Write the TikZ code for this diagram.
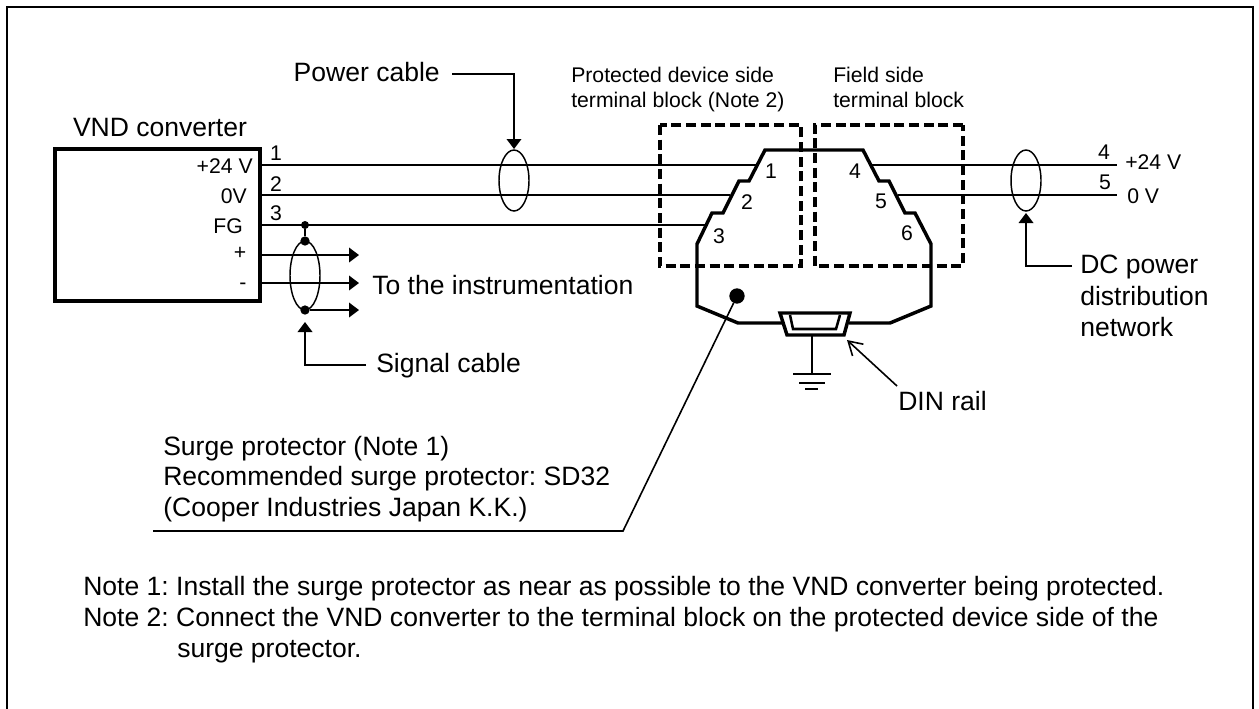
\documentclass[tikz,border=0pt]{standalone}
\usepackage{fontspec}
\setmainfont{Liberation Sans}
\usetikzlibrary{arrows.meta}
\AtBeginDocument{\frenchspacing}
\tikzset{
  px/.style={x=0.75pt,y=-0.75pt},
  wire/.style={line width=1.2pt},
  dashbox/.style={line width=2.6pt,dash pattern=on 7.5pt off 3.5pt},
  block/.style={line width=2.6pt,line join=miter},
  cable/.style={line width=1.1pt},
  lead/.style={line width=1.1pt,-{Triangle[length=7.5pt,width=11pt]}},
  big/.style={font=\fontsize{19.9}{24}\selectfont,inner sep=0pt},
  mid/.style={font=\fontsize{15.9}{19}\selectfont,inner sep=0pt},
  junction/.style={circle,fill=black,inner sep=0pt,minimum size=6pt},
}
\begin{document}
\begin{tikzpicture}[px]
\useasboundingbox (0,0) rectangle (1259,708);
\clip (0,0) rectangle (1259,708);
\draw[line width=1.6pt] (7,720)--(7,7)--(1253,7)--(1253,720);
% VND box
\node[draw,line width=2.4pt,minimum width=153.75pt,minimum height=114pt,inner sep=0pt] (vnd) at (157.5,225) {};
\node[big,anchor=base] (vndt) at (160,136) {VND converter};
\node[mid,anchor=base east] (t1) at (253,173) {+24 V};
\node[mid,anchor=base east] (t2) at (247,203) {0V};
\node[mid,anchor=base east] (t3) at (243,233) {FG};
\node[mid,anchor=base] (t4) at (240,259) {+};
\node[mid,anchor=base] (t5) at (243,289) {-};
\node[mid,anchor=base] (n1) at (276,160) {1};
\node[mid,anchor=base] (n2) at (276,191) {2};
\node[mid,anchor=base] (n3) at (276,220) {3};
% wires
\coordinate (w1r) at (757,165);
\coordinate (w2r) at (730,195);
\coordinate (w3r) at (705,225);
\coordinate (w4l) at (872,165); \coordinate (w4r) at (1117,165);
\coordinate (w5l) at (898,195); \coordinate (w5r) at (1117,195);
\draw[wire] (vnd.east|-w1r)--(w1r);
\draw[wire] (vnd.east|-w2r)--(w2r);
\draw[wire] (vnd.east|-w3r)--(w3r);
\draw[wire] (w4l)--(w4r);
\draw[wire] (w5l)--(w5r);
% signal
\node[junction] (j1) at (305,225) {};
\node[junction,minimum size=7pt] (j2) at (305,241) {};
\node[junction,minimum size=7pt] (j3) at (305,310) {};
\draw[wire] (j1)--(j2);
\draw[cable] (305,275.5) ellipse [x radius=15,y radius=34.5];
\coordinate (s1) at (260,255); \coordinate (s1e) at (359,255);
\coordinate (s2) at (260,283); \coordinate (s2e) at (359,283);
\coordinate (s3e) at (359,310);
\draw[lead] (s1)--(s1e);
\draw[lead] (s2)--(s2e);
\draw[lead] (j3)--(s3e);
\node[big,anchor=base west] (instr) at (372,294) {To the instrumentation};
\node[big,anchor=base west] (sigc) at (376,372) {Signal cable};
\coordinate (sigtip) at (305,322);
\coordinate (sigs) at (366,365);
\draw[lead] (sigs) -| (sigtip);
% power cable
\draw[cable] (514,180.5) ellipse [x radius=15,y radius=30.5];
\node[big,anchor=base east] (pc) at (440,81) {Power cable};
\coordinate (pctip) at (514,149);
\coordinate (pcs) at (452,74);
\draw[lead] (pcs) -| (pctip);
% right cable
\draw[cable] (1026,180.5) ellipse [x radius=15,y radius=30.5];
\node[mid,anchor=base] (n4) at (1104,159) {4};
\node[mid,anchor=base] (n5) at (1105,189) {5};
\node[mid,anchor=base west] (p24) at (1125,169) {+24 V};
\node[mid,anchor=base west] (p0) at (1127,203) {0 V};
\node[big,anchor=base west] (dc1) at (1080,273) {DC power};
\node[big,anchor=base west] (dc2) at (1080,305) {distribution};
\node[big,anchor=base west] (dc3) at (1080,336) {network};
\coordinate (dctip) at (1026,213);
\coordinate (dcs) at (1072,266);
\draw[lead] (dcs) -| (dctip);
% dashed
\draw[dashbox] (660,125) rectangle (801,266);
\draw[dashbox] (963,125) -- (815,125) -- (815,266) -- (963,266) -- cycle;
% block
\draw[block] (782,323)--(738,323)--(697,306)--(697,244)--(712,213)--(723,213)--(739,181)--(749,181)--(765,150)--(863,150)--(879,181)--(889,181)--(905,213)--(915,213)--(931,244)--(931,306)--(890,323)--(849,323);
\node[mid,anchor=base] (b1) at (771,178) {1};
\node[mid,anchor=base] (b2) at (747,209) {2};
\node[mid,anchor=base] (b3) at (719,243) {3};
\node[mid,anchor=base] (b4) at (855,178) {4};
\node[mid,anchor=base] (b5) at (881,208) {5};
\node[mid,anchor=base] (b6) at (907,240) {6};
% DIN
\draw[block] (780,313)--(850,313)--(844,335)--(787,335)--cycle;
\draw[line width=1.9pt] (790,315)--(793,329)--(836,329)--(840,315);
\coordinate (gt) at (812,335); \coordinate (gb) at (812,374);
\draw[wire] (gt)--(gb);
\draw[wire] (793,374)--(831,374);
\draw[wire] (799,383)--(825,383);
\draw[wire] (805,389)--(818,389);
\node[big,anchor=base west] (din) at (898,410) {DIN rail};
\coordinate (dintip) at (847,340);
\coordinate (dins) at (897,386);
\draw[wire,-{Straight Barb[length=10pt,width=12pt]}] (dins)--(dintip);
% surge
\node[circle,fill=black,inner sep=0pt,minimum size=11.5pt] (sd) at (737,296) {};
\node[big,anchor=base west] (s1t) at (163,455) {Surge protector (Note 1)};
\node[big,anchor=base west] (s2t) at (163,485) {Recommended surge protector: SD32};
\node[big,anchor=base west] (s3t) at (163,516) {(Cooper Industries Japan K.K.)};
\coordinate (sl) at (153,531); \coordinate (sr) at (623,531);
\draw[wire] (sl)--(sr)--(sd);
% labels
\node[mid,anchor=base west] (pd1) at (571,82) {Protected device side};
\node[mid,anchor=base west] (pd2) at (571,107) {terminal block (Note 2)};
\node[mid,anchor=base west] (fs1) at (833,82) {Field side};
\node[mid,anchor=base west] (fs2) at (833,107) {terminal block};
\node[big,anchor=base west] (note1) at (83,595) {Note 1: Install the surge protector as near as possible to the VND converter being protected.};
\node[big,anchor=base west] (note2) at (83,626) {Note 2: Connect the VND converter to the terminal block on the protected device side of the};
\node[big,anchor=base west] (note3) at (177,657) {surge protector.};
\end{tikzpicture}
\end{document}
